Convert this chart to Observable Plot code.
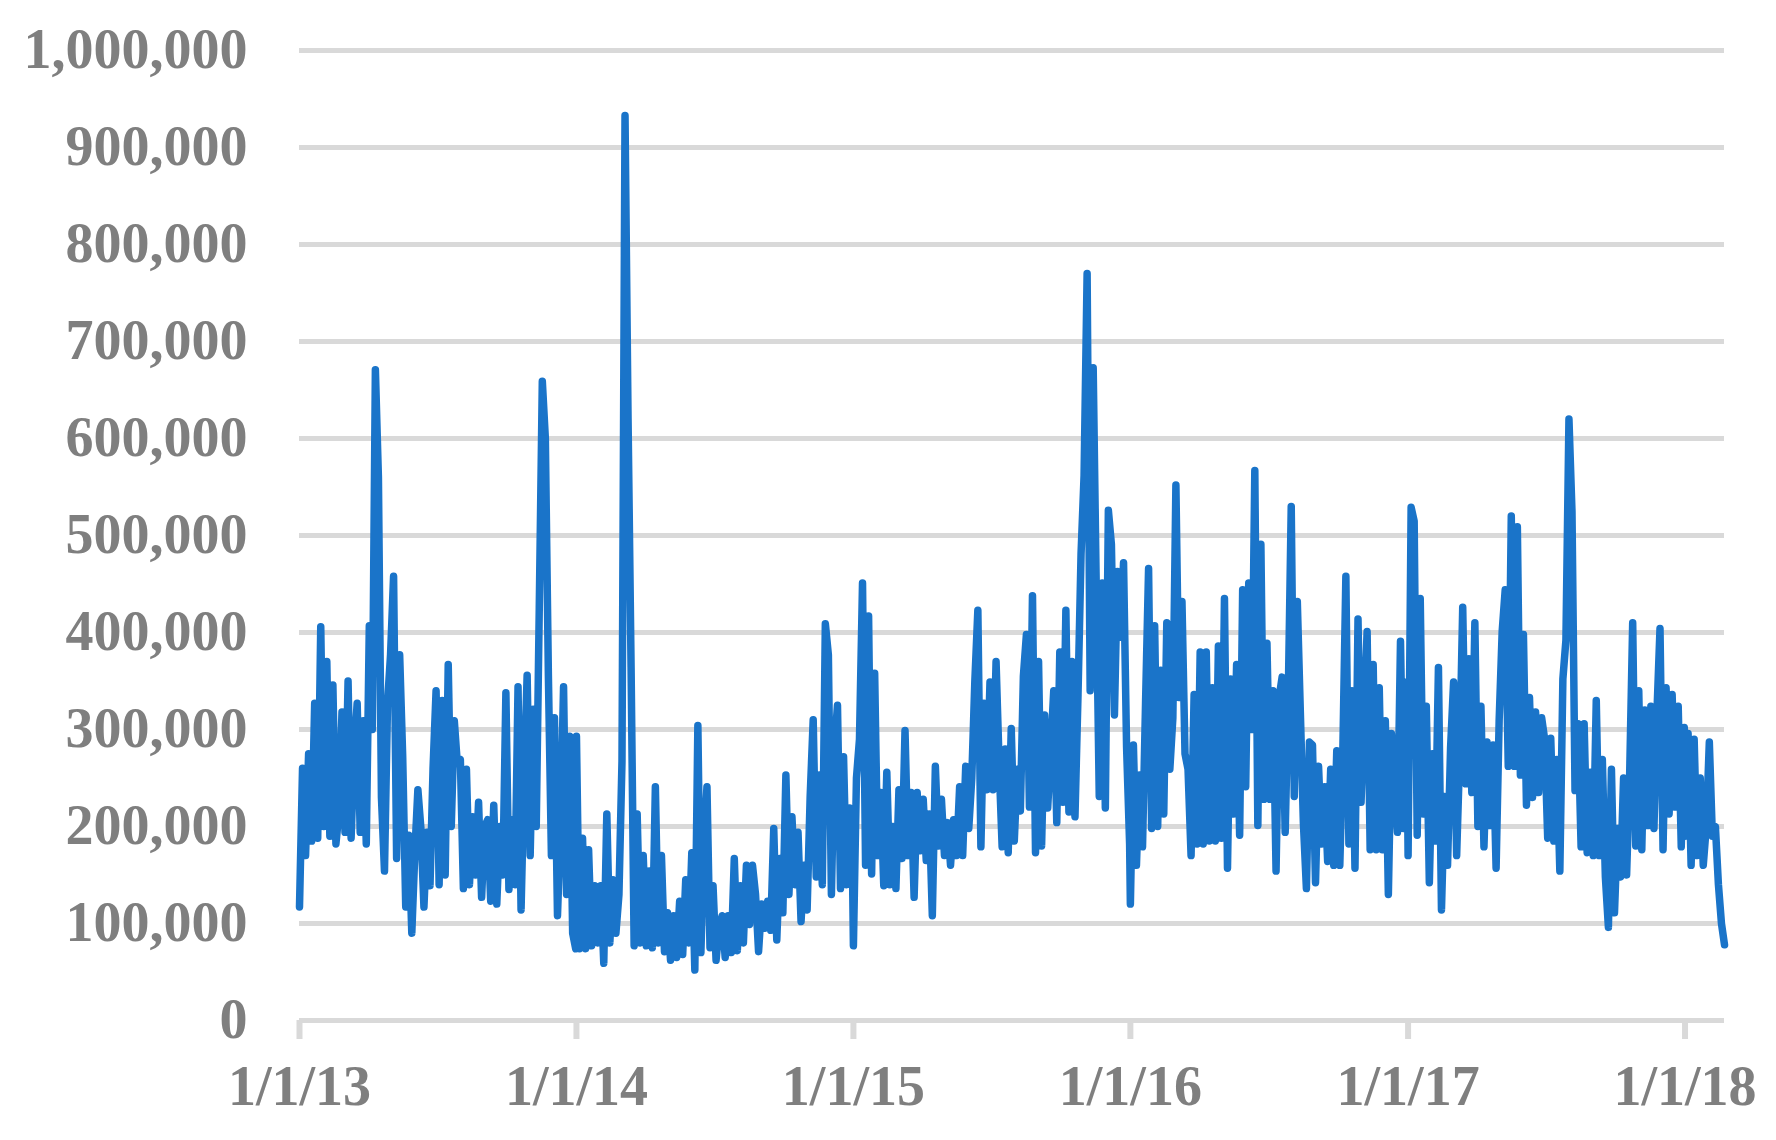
<!DOCTYPE html>
<html>
<head>
<meta charset="utf-8">
<script src="https://cdn.jsdelivr.net/npm/d3@7"></script>
<script src="https://cdn.jsdelivr.net/npm/@observablehq/plot@0.6"></script>
<style>
  html, body { margin: 0; padding: 0; background: #ffffff; }
  svg { display: block; }
</style>
</head>
<body>
<div id="chart"></div>
<script>
// Values (thousands), one value every 4 days from 1 Jan of each year
const stepDays = 4;
const v2013 = [117,260,170,275,185,327,188,406,200,370,
  190,346,182,215,318,194,350,188,278,327,
  194,309,182,407,300,671,560,230,154,327,
  377,458,167,377,272,117,191,90,173,238,
  198,117,194,139,260,340,140,330,150,367,
  200,309,265,269,136,259,140,210,150,225,
  127,200,207,123,222,120,200,150,338,135,
  207,140,344,114,250,356,170,321,200,426,
  659,600,356,170,312,108,200,344,130,293,
  90,74];
const v2014 = [293,74,188,74,176,77,139,80,139,59,
  213,80,145,90,130,267,933,620,364,77,
  213,80,170,77,154,75,241,80,170,71,
  111,62,108,65,123,68,145,80,173,52,
  304,70,182,241,75,139,62,96,108,65,
  108,70,167,72,139,80,160,99,160,130,
  71,120,95,123,93,198,83,167,111,253,
  130,210,140,194,102,160,114,231,310,148,
  253,140,409,377,130,280,325,136,272,140,
  219,140];
const v2015 = [77,250,290,451,160,417,151,358,170,235,
  139,256,140,200,136,238,167,299,170,235,
  127,235,175,228,165,213,108,262,180,228,
  170,204,160,207,170,241,170,262,198,250,
  349,423,179,327,238,349,238,370,265,179,
  280,173,301,185,259,216,355,398,220,438,
  173,370,180,315,219,278,340,204,380,225,
  423,215,370,210,336,481,562,770,340,673,
  448,231,451,219,526,491,315,463,395,472,
  282,182];
const v2016 = [120,284,160,253,179,327,466,198,407,200,
  361,213,410,259,312,552,333,432,275,259,
  170,336,182,380,182,380,185,343,185,386,
  188,435,157,352,213,367,191,444,241,451,
  300,567,201,491,228,389,228,340,154,333,
  354,194,330,530,231,432,318,204,136,287,
  284,142,262,182,241,164,259,160,278,160,
  278,458,182,340,157,414,225,315,401,176,
  367,176,343,176,309,130,296,250,194,391,
  198,349];
const v2017 = [170,529,515,191,435,213,324,142,275,185,
  364,114,231,160,281,349,170,275,426,244,
  373,235,410,200,324,179,287,201,284,157,
  309,401,444,262,520,262,509,253,398,222,
  333,230,318,235,312,290,188,291,185,269,
  154,352,392,620,525,237,306,179,306,173,
  256,170,330,170,269,148,96,259,111,198,
  148,250,150,253,410,180,340,176,320,201,
  324,198,318,404,176,343,213,336,220,324,
  179,302];
const v2018 = [190,296,160,290,170,250,160,200,287,190,200,140,100,78];

const yTicks = [0,100000,200000,300000,400000,500000,600000,700000,800000,900000,1000000];
const xTickYears = [2013,2014,2015,2016,2017,2018];
const xTickLabels = ["1/1/13","1/1/14","1/1/15","1/1/16","1/1/17","1/1/18"];

const series = [[2013, v2013],[2014, v2014],[2015, v2015],[2016, v2016],[2017, v2017],[2018, v2018]];
const data = series.flatMap(([yr, vals]) =>
  vals.map((v, i) => ({date: new Date(Date.UTC(yr, 0, 1 + stepDays * i)), value: v * 1000})));
const xTickDates = xTickYears.map(y => new Date(Date.UTC(y, 0, 1)));
const lastDate = data[data.length - 1].date;

const chart = Plot.plot({
  width: 1776,
  height: 1140,
  marginLeft: 299,
  marginRight: 52,
  marginTop: 50,
  marginBottom: 120,
  x: {type: "utc", domain: [xTickDates[0], lastDate], label: null},
  y: {domain: [0, 1000000], label: null},
  style: {fontFamily: "'Liberation Serif', 'Times New Roman', serif", fontWeight: "bold", background: "#ffffff"},
  marks: [
    Plot.ruleY(yTicks, {stroke: "#d9d9d9", strokeWidth: 5}),
    Plot.axisY({ticks: yTicks, tickSize: 0, tickPadding: 52, tickFormat: d3.format(","), fontSize: 56, color: "#7f7f7f", label: null}),
    Plot.axisX({ticks: xTickDates, tickSize: 19, tickPadding: 26,
      tickFormat: d => xTickLabels[xTickDates.findIndex(t => +t === +d)],
      fontSize: 56, color: "#7f7f7f", stroke: "#d9d9d9", strokeWidth: 6, label: null}),
    Plot.lineY(data, {x: "date", y: "value", stroke: "#1a74c9", strokeWidth: 7.5, strokeLinejoin: "round", strokeLinecap: "round"})
  ]
});
document.getElementById("chart").appendChild(chart);
</script>
</body>
</html>
